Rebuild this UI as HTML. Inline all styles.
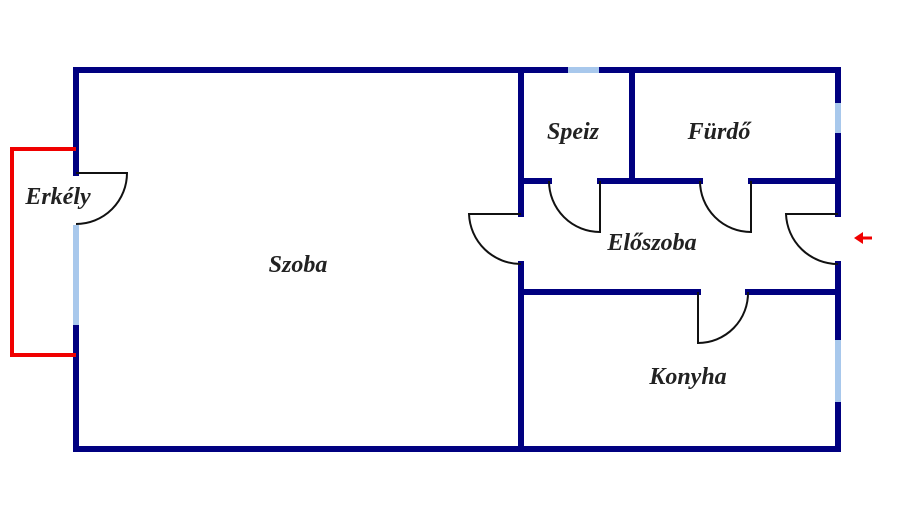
<!DOCTYPE html>
<html><head><meta charset="utf-8"><style>
html,body{margin:0;padding:0;background:#fff;}
svg text{font-family:"Liberation Serif",serif;font-style:italic;font-weight:bold;font-size:24px;fill:#222;}
</style></head><body>
<svg width="900" height="522" viewBox="0 0 900 522" xmlns="http://www.w3.org/2000/svg">
<g stroke="#000080" stroke-width="6" fill="none" stroke-linecap="square">
<path d="M76 70 H568 M599 70 H838"/>
<path d="M76 70 V173 M76 325 V449"/>
<path d="M76 449 H838"/>
<path d="M838 70 V103 M838 133 V214 M838 264 V340 M838 402 V449"/>
<path d="M521 70 V214 M521 264 V449"/>
<path d="M632 70 V181"/>
<path d="M521 181 H549 M600 181 H700 M751 181 H838"/>
<path d="M521 292 H698 M748 292 H838"/>
</g>
<g stroke="#a8c8ec" stroke-width="6">
<path d="M568 70 H599"/>
<path d="M838 103 V133"/>
<path d="M838 340 V402"/>
<path d="M76 225 V325"/>
</g>
<path d="M76 149 H12 V355 H76" stroke="#f00000" stroke-width="4" fill="none"/>
<g stroke="#111" stroke-width="2" fill="none">
<path d="M76 173 H127 A51 51 0 0 1 76 224"/>
<path d="M600 181 V232 A51 51 0 0 1 549 181"/>
<path d="M751 181 V232 A51 51 0 0 1 700 181"/>
<path d="M521 214 H469 A52 52 0 0 0 521 264"/>
<path d="M838 214 H786 A52 52 0 0 0 838 264"/>
<path d="M698 292 V343 A50 50 0 0 0 748 292"/>
</g>
<path d="M872 238 H862" stroke="#f00000" stroke-width="3"/>
<path d="M854 238 L863 232 L863 244 Z" fill="#f00000"/>
<text x="58" y="204" text-anchor="middle">Erkély</text>
<text x="298" y="272" text-anchor="middle">Szoba</text>
<text x="573" y="139" text-anchor="middle">Speiz</text>
<text x="719" y="139" text-anchor="middle">Fürdő</text>
<text x="652" y="250" text-anchor="middle">Előszoba</text>
<text x="688" y="384" text-anchor="middle">Konyha</text>
</svg>
</body></html>
